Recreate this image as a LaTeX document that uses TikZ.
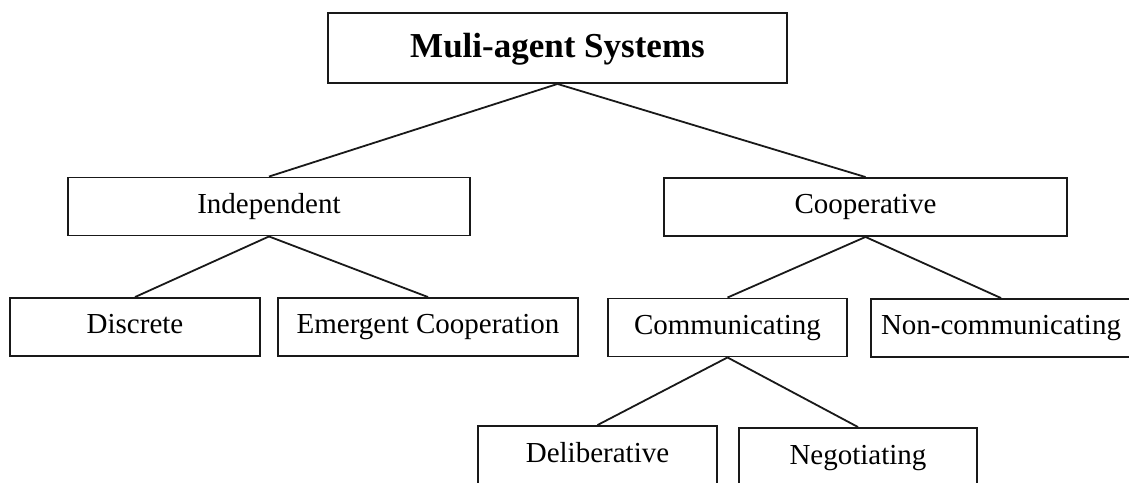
\documentclass[tikz,border=0pt]{standalone}
\usepackage{fontspec}
\setmainfont{Liberation Serif}
\usetikzlibrary{backgrounds}

\begin{document}
\begin{tikzpicture}[x=1pt,y=-1pt,
 cat/.style={draw=black!90,line width=1.9pt,inner sep=0pt,minimum height=58,
  text height=20,text depth=7,font=\fontsize{29}{34}\selectfont},
 link/.style={draw=black!90,line width=1.8pt}]

\useasboundingbox (0,0) rectangle (1129,482);

\begin{scope}
 \node [cat,minimum width=459,minimum height=70,text height=24,text depth=6,
  font=\fontsize{35}{40}\selectfont\bfseries] (mas) at (557.5,48) {Muli-agent Systems};
\end{scope}

\begin{scope}
 \node [cat,minimum width=402] (ind) at (269,206.5) {Independent};
 \node [cat,minimum width=250] (dis) at (135,327) {Discrete};
 \node [cat,minimum width=300] (eme) at (428,327) {Emergent Cooperation};
\end{scope}

\begin{scope}
 \node [cat,minimum width=403] (coo) at (865.5,207) {Cooperative};
 \node [cat,minimum width=239] (com) at (727.5,327.5) {Communicating};
 \node [cat,minimum width=260] (non) at (1001,328) {Non-communicating};
 \node [cat,minimum width=239,minimum height=60] (del) at (597.5,456) {Deliberative};
 \node [cat,minimum width=238,minimum height=60] (neg) at (858,458) {Negotiating};
\end{scope}

\begin{pgfonlayer}{background}
 \draw [link] (mas.south) -- (ind.north);
 \draw [link] (mas.south) -- (coo.north);
 \draw [link] (ind.south) -- (dis.north);
 \draw [link] (ind.south) -- (eme.north);
 \draw [link] (coo.south) -- (com.north);
 \draw [link] (coo.south) -- (non.north);
 \draw [link] (com.south) -- (del.north);
 \draw [link] (com.south) -- (neg.north);
\end{pgfonlayer}

\end{tikzpicture}
\end{document}
